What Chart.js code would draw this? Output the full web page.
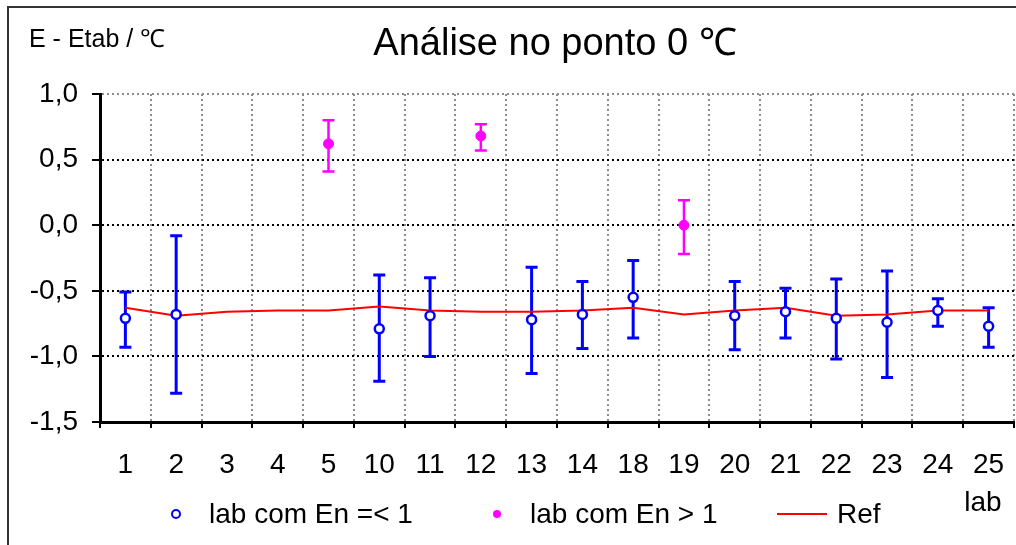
<!DOCTYPE html>
<html>
<head>
<meta charset="utf-8">
<script src="https://cdn.jsdelivr.net/npm/chart.js@4.4.0/dist/chart.umd.min.js"></script>
<style>
  body { margin: 0; background: #fff; }
  #wrap { width: 1016px; height: 545px; position: relative; overflow: hidden; }
</style>
</head>
<body>
<!-- canvas is a little wider than the window so the plot runs to the right edge -->
<div id="wrap"><canvas id="chart" width="1021" height="545"></canvas></div>
<script>
// labs on the x axis
const labs = ['1', '2', '3', '4', '5', '10', '11', '12', '13', '14', '18', '19', '20', '21', '22', '23', '24', '25'];

// labs with En =< 1 (value, upper and lower end of the error bar)
const okVals = [-0.71, -0.68, null, null, null, -0.79, -0.69, null, -0.72, -0.68, -0.55, null, -0.69, -0.66, -0.71, -0.74, -0.65, -0.77];
const okHigh = [-0.51, -0.08, null, null, null, -0.38, -0.40, null, -0.32, -0.43, -0.27, null, -0.43, -0.48, -0.41, -0.35, -0.56, -0.63];
const okLow = [-0.93, -1.28, null, null, null, -1.19, -1.00, null, -1.13, -0.94, -0.86, null, -0.95, -0.86, -1.02, -1.16, -0.77, -0.93];

// labs with En > 1
const outVals = [null, null, null, null, 0.62, null, null, 0.68, null, null, null, 0.00, null, null, null, null, null, null];
const outHigh = [null, null, null, null, 0.80, null, null, 0.77, null, null, null, 0.19, null, null, null, null, null, null];
const outLow = [null, null, null, null, 0.41, null, null, 0.57, null, null, null, -0.22, null, null, null, null, null, null];

// reference line
const refVals = [-0.63, -0.69, -0.66, -0.65, -0.65, -0.62, -0.65, -0.66, -0.66, -0.65, -0.63, -0.68, -0.65, -0.63, -0.69, -0.68, -0.65, -0.65];

const yTicks = [-1.5, -1.0, -0.5, 0.0, 0.5, 1.0];

const FONT = "'Liberation Sans', Arial, sans-serif";
Chart.defaults.font.family = FONT;
Chart.defaults.color = '#000';

const errorBars = {
    id: 'errorBars',
    beforeDatasetsDraw(chart) {
        const ctx = chart.ctx;
        const x = chart.scales.x, y = chart.scales.y;
        chart.data.datasets.forEach(ds => {
            if (!ds.errHigh) return;
            ctx.save();
            ctx.strokeStyle = ds.borderColor;
            ctx.lineWidth = ds.errWidth;
            ds.errHigh.forEach((hi, i) => {
                const lo = ds.errLow[i];
                if (hi == null || lo == null) return;
                const px = x.getPixelForValue(i);
                const top = y.getPixelForValue(hi);
                const bot = y.getPixelForValue(lo);
                ctx.beginPath();
                ctx.moveTo(px, top); ctx.lineTo(px, bot);
                ctx.moveTo(px - 6, top); ctx.lineTo(px + 6, top);
                ctx.moveTo(px - 6, bot); ctx.lineTo(px + 6, bot);
                ctx.stroke();
            });
            ctx.restore();
        });
    }
};

const decor = {
    id: 'decor',
    afterDraw(chart) {
        const ctx = chart.ctx;
        ctx.save();
        // outer frame (only top and left show)
        ctx.strokeStyle = '#333';
        ctx.lineWidth = 2;
        ctx.strokeRect(8, 7, 1200, 800);

        ctx.fillStyle = '#000';
        ctx.textBaseline = 'middle';
        ctx.textAlign = 'center';
        ctx.font = '38px ' + FONT;
        ctx.fillText('Análise no ponto 0 ℃', 555, 45);

        ctx.textAlign = 'left';
        ctx.font = '25px ' + FONT;
        ctx.fillText('E - Etab / ℃', 29, 40);

        ctx.textAlign = 'center';
        ctx.font = '28px ' + FONT;
        ctx.fillText('lab', 983, 503);

        // legend
        const legendX = [176, 497, 802];
        const ly = 514;
        chart.data.datasets.forEach((ds, i) => {
            const cx = legendX[i];
            ctx.beginPath();
            if (ds.showLine === false) {
                ctx.arc(cx, ly, 4, 0, Math.PI * 2);
                if (ds.legendFilled) {
                    ctx.fillStyle = ds.borderColor;
                    ctx.fill();
                } else {
                    ctx.strokeStyle = ds.borderColor;
                    ctx.lineWidth = 2;
                    ctx.stroke();
                }
            } else {
                ctx.strokeStyle = ds.borderColor;
                ctx.lineWidth = 2;
                ctx.moveTo(cx - 25, ly);
                ctx.lineTo(cx + 25, ly);
                ctx.stroke();
            }
            ctx.fillStyle = '#000';
            ctx.textAlign = 'left';
            ctx.font = '28px ' + FONT;
            ctx.fillText(ds.label, ds.showLine === false ? cx + 33 : cx + 35, ly + 1);
        });
        ctx.restore();
    }
};

new Chart(document.getElementById('chart'), {
    type: 'line',
    data: {
        labels: labs,
        datasets: [
            {
                label: 'lab com En =< 1',
                data: okVals,
                errHigh: okHigh,
                errLow: okLow,
                errWidth: 3,
                showLine: false,
                borderColor: '#0000FF',
                backgroundColor: '#FFFFFF',
                pointRadius: 4.5,
                pointBorderWidth: 2.5,
                legendFilled: false
            },
            {
                label: 'lab com En > 1',
                data: outVals,
                errHigh: outHigh,
                errLow: outLow,
                errWidth: 2.5,
                showLine: false,
                borderColor: '#FF00FF',
                backgroundColor: '#FF00FF',
                pointRadius: 5,
                pointBorderWidth: 1,
                legendFilled: true
            },
            {
                label: 'Ref',
                data: refVals,
                borderColor: '#FF0000',
                borderWidth: 2,
                pointRadius: 0,
                tension: 0
            }
        ]
    },
    options: {
        responsive: false,
        animation: false,
        layout: { padding: { top: 94, right: 0, bottom: 0, left: 0 } },
        plugins: {
            legend: { display: false },
            tooltip: { enabled: false }
        },
        scales: {
            x: {
                offset: true,
                grid: {
                    offset: true,
                    color: ctx => ctx.index === 0 ? 'rgba(0,0,0,0)' : '#8c8c8c',
                    lineWidth: 2,
                    tickLength: 6,
                    tickColor: '#000',
                    tickWidth: 2
                },
                border: { color: '#000', width: 3, dash: [2, 3] },
                ticks: {
                    autoSkip: false,
                    maxRotation: 0,
                    padding: 20,
                    font: { size: 28 }
                },
                afterFit: s => {
                    s.height = 123;
                    s.paddingLeft = 0;
                    s.paddingRight = 0;
                }
            },
            y: {
                min: -1.5,
                max: 1.0,
                afterBuildTicks: s => { s.ticks = yTicks.map(v => ({ value: v })); },
                grid: {
                    color: ctx => ctx.index === yTicks.length - 1 ? '#8c8c8c' : '#000',
                    lineWidth: 2,
                    tickLength: 8,
                    tickColor: '#000',
                    tickWidth: 2
                },
                border: { color: '#000', width: 3, dash: [2, 3] },
                ticks: {
                    padding: 14,
                    font: { size: 28 },
                    callback: v => v.toFixed(1).replace('.', ',')
                },
                afterFit: s => {
                    s.width = 100;
                    s.paddingTop = 0;
                    s.paddingBottom = 0;
                }
            }
        }
    },
    plugins: [errorBars, decor]
});
</script>
</body>
</html>
